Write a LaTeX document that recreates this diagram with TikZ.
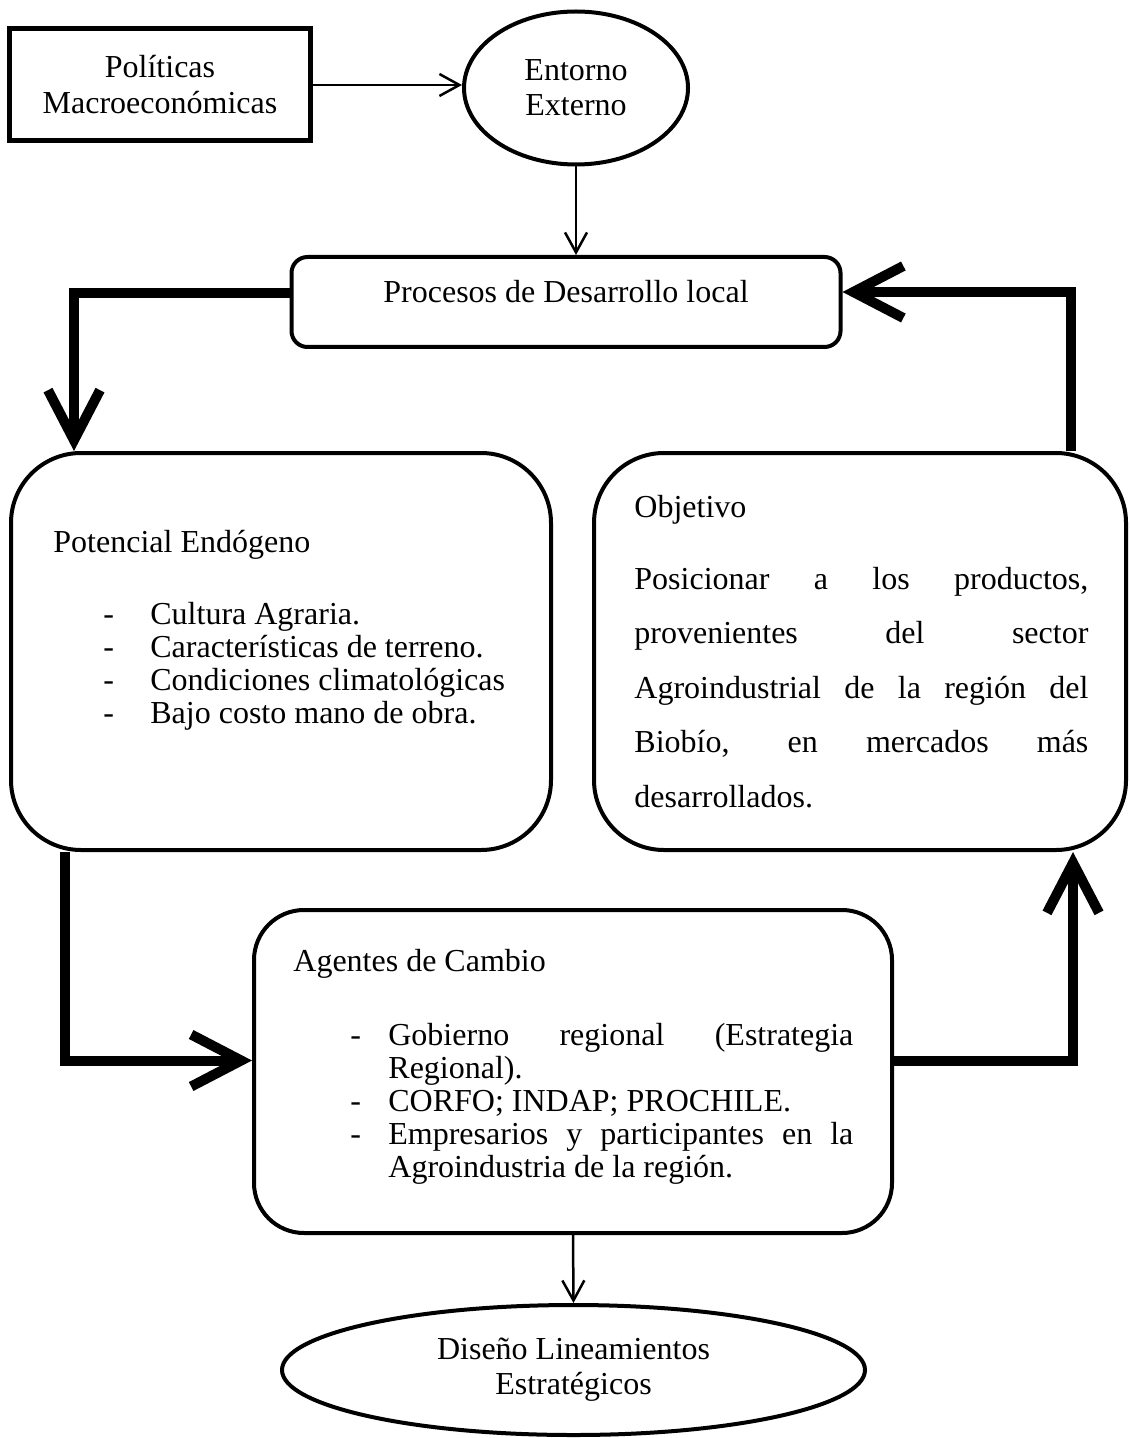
\documentclass[tikz,border=0pt]{standalone}
\usepackage{fontspec}
\setmainfont{Liberation Serif}
\usetikzlibrary{arrows.meta,positioning,shapes.geometric}

\begin{document}
\begin{tikzpicture}[x=0.5pt, y=-0.5pt, font=\fontsize{16}{16.5}\selectfont]
	\tikzstyle{rect}
	  =[draw, rectangle, line width=2.5pt, inner sep=0pt, align=center]
	\tikzstyle{oval}
	  =[draw, ellipse, line width=2pt, inner sep=0pt, align=center]
	\tikzstyle{rbox}
	  =[draw, rectangle, line width=2pt, rounded corners=35pt, inner sep=0pt]
	\tikzstyle{txt}
	  =[inner sep=0pt, anchor=base west]
	\tikzstyle{thinarrow}
	  =[line width=1.25pt, -{Straight Barb[length=10pt, width=11pt]}]
	\tikzstyle{heavy}
	  =[line width=5pt, -{Straight Barb[length=25pt, width=26pt]}]

	\useasboundingbox (0,0) rectangle (1129,1438);

	\node[rect, minimum width=150.5pt, minimum height=56pt,
	  font=\fontsize{16}{18}\selectfont] (pol)
	  at (160,85) {Políticas\\Macroeconómicas};
	\node[oval, minimum width=112pt, minimum height=76.5pt,
	  font=\fontsize{16}{17.5}\selectfont] (ent)
	  at (576,88) {Entorno\\Externo};
	\node[rbox, rounded corners=8pt, minimum width=274.5pt,
	  minimum height=45pt, text depth=10.5pt] (proc)
	  at (566,302) {Procesos de Desarrollo local};

	\node[rbox, minimum width=270pt, minimum height=198.5pt] (pot)
	  at (281,651.5) {};
	\node[rbox, minimum width=266pt, minimum height=198.5pt] (obj)
	  at (860,651.5) {};
	\node[rbox, rounded corners=25pt, minimum width=319pt,
	  minimum height=161.5pt] (age)
	  at (573,1071.5) {};
	\node[oval, minimum width=291.5pt, minimum height=65pt,
	  font=\fontsize{16}{17.5}\selectfont] (dis)
	  at (573.5,1370) {Diseño Lineamientos\\Estratégicos};

	% texto de las cajas
	\node[txt] (pot_head) at (53,552) {Potencial Endógeno};
	\node[txt] (pot_list) at (103,624)
	  {\begin{tabular}[t]{@{}p{23.5pt}@{}l@{}}
	  -&Cultura Agraria.\\
	  -&Características de terreno.\\
	  -&Condiciones climatológicas\\
	  -&Bajo costo mano de obra.
	  \end{tabular}};

	\node[txt] (obj_head) at (634,517) {Objetivo};
	\node[txt, text width=227pt, align=justify,
	  font=\fontsize{16}{27.25}\selectfont] (obj_text) at (634,589)
	  {Posicionar a los productos,\linebreak
	  provenientes del sector\linebreak
	  Agroindustrial de la región del\linebreak
	  Biobío, en mercados más\linebreak
	  desarrollados.};

	\node[txt] (age_head) at (293,971) {Agentes de Cambio};
	\node[txt] (age_list) at (350,1045)
	  {\begin{tabular}[t]{@{}p{19pt}@{}p{232.5pt}@{}}
	  -&Gobierno regional (Estrategia\linebreak Regional).\\
	  -&CORFO; INDAP; PROCHILE.\\
	  -&Empresarios y participantes en la\linebreak
	  Agroindustria de la región.
	  \end{tabular}};

	\draw[thinarrow] (pol.east)--(pol.east -| ent.west);
	\draw[thinarrow] (ent.south)--(ent.south |- proc.north);
	\draw[heavy] ([yshift=4.5pt]proc.west) -| ([xshift=32.5pt]pot.north west);
	\draw[heavy] ([xshift=-28.5pt]obj.north east) |- ([yshift=5pt]proc.east);
	\draw[heavy] ([xshift=28pt]pot.south west) |- ([yshift=5.5pt]age.west);
	\draw[heavy] ([yshift=5.5pt]age.east) -| ([xshift=-27.5pt]obj.south east);
	\draw[thinarrow] (age.south)--(dis.north);
\end{tikzpicture}
\end{document}
